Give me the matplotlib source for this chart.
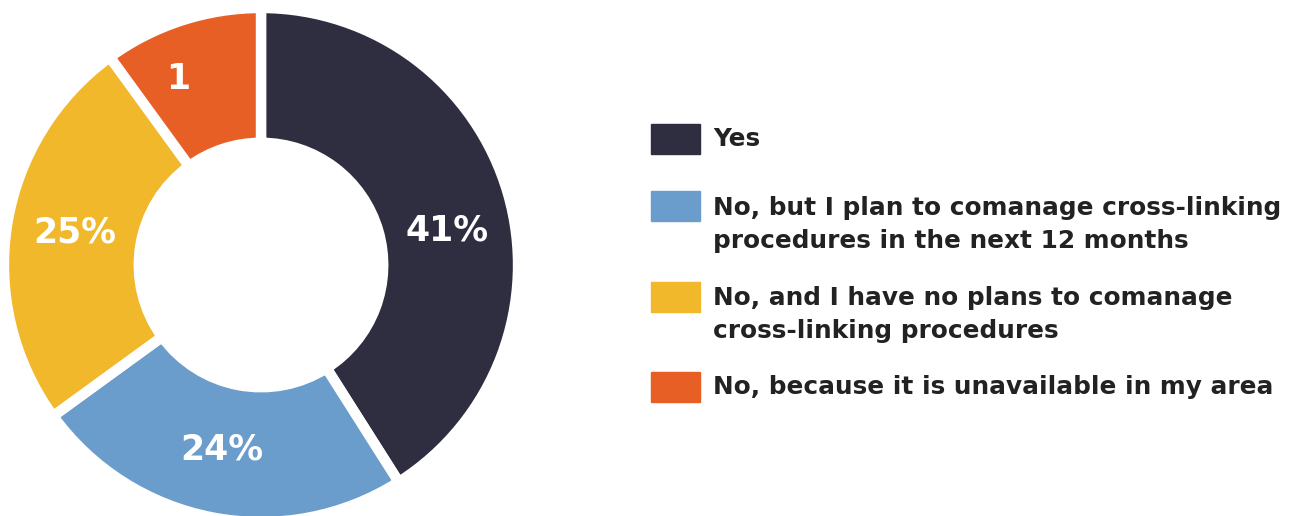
import numpy as np
import matplotlib
matplotlib.use('Agg')
import matplotlib.pyplot as plt
from matplotlib.patches import Rectangle

# ---------------------------------------------------------------------------
# Data
# ---------------------------------------------------------------------------
categories = [
    "Yes",
    "No, but I plan to comanage cross-linking\nprocedures in the next 12 months",
    "No, and I have no plans to comanage\ncross-linking procedures",
    "No, because it is unavailable in my area",
]
values = [41, 24, 25, 10]
value_labels = ["41%", "24%", "25%", "1"]
colors = ["#2f2d40", "#6a9dcb", "#f0b82a", "#e85f26"]

W, H = 1291, 516
FONT = "DejaVu Sans"

fig = plt.figure(figsize=(W / 100, H / 100), dpi=100)

# ---------------------------------------------------------------------------
# Donut
# ---------------------------------------------------------------------------
cx, cy, R = 261, H - 265, 252
ax = fig.add_axes([(cx - R) / W, (cy - R) / H, 2 * R / W, 2 * R / H])
wedges, _ = ax.pie(values, colors=colors, startangle=90, counterclock=False,
                   radius=1.02, wedgeprops=dict(width=0.535, edgecolor='white',
                                                linewidth=7.5))
ax.set_xlim(-1, 1)
ax.set_ylim(-1, 1)
ax.set_aspect('equal')
ax.axis('off')

# label placement (angle in degrees, radius) -- roughly mid-wedge
label_pos = [(10.5, 0.75), (-102, 0.75), (170, 0.75), (114, 0.81)]
for lab, (ang, r) in zip(value_labels, label_pos):
    a = np.deg2rad(ang)
    ax.text(r * np.cos(a), r * np.sin(a), lab, ha='center', va='center',
            color='white', fontsize=25, fontweight='heavy', family=FONT)

# ---------------------------------------------------------------------------
# Legend (drawn by hand to match the layout)
# ---------------------------------------------------------------------------
box_top = [124, 191, 282, 372]
text_top = [139, 196, 286, 387]
for c, lab, bt, tt in zip(colors, categories, box_top, text_top):
    fig.patches.append(Rectangle((651 / W, 1 - (bt + 30) / H), 49 / W, 30 / H,
                                 transform=fig.transFigure, color=c))
    nlines = lab.count("\n") + 1
    fig.text(713 / W, 1 - tt / H, lab, ha='left',
             va='center' if nlines == 1 else 'top',
             fontsize=17.8, fontweight='bold', color='#222222', family=FONT,
             linespacing=1.45)

fig.savefig('out.png', dpi=100)
